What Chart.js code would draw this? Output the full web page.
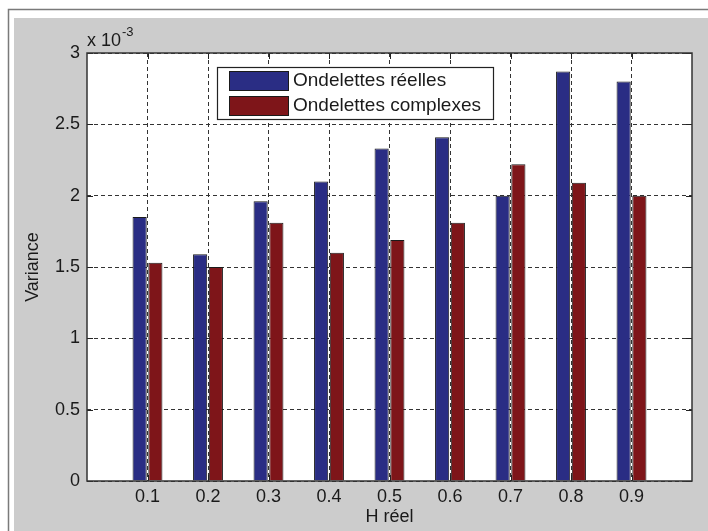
<!DOCTYPE html>
<html>
<head>
<meta charset="utf-8">
<script src="https://cdn.jsdelivr.net/npm/chart.js@4"></script>
<style>
  html, body { margin: 0; padding: 0; background: #ffffff; }
  canvas { display: block; }
</style>
</head>
<body>
<canvas id="chart" width="708" height="531"></canvas>
<script>
// Estimated variance of H for each true value of H
const hValues = [0.1, 0.2, 0.3, 0.4, 0.5, 0.6, 0.7, 0.8, 0.9];
const tickLabels = ['0.1', '0.2', '0.3', '0.4', '0.5', '0.6', '0.7', '0.8', '0.9'];
const seriesNames = ['Ondelettes réelles', 'Ondelettes complexes'];
const varReelles = [1.85e-3, 1.59e-3, 1.96e-3, 2.10e-3, 2.33e-3, 2.41e-3, 2.00e-3, 2.87e-3, 2.80e-3];
const varComplexes = [1.53e-3, 1.50e-3, 1.81e-3, 1.60e-3, 1.69e-3, 1.81e-3, 2.22e-3, 2.09e-3, 2.00e-3];

const FONT = 'Liberation Sans, Arial, Helvetica, sans-serif';
const TEXT = '#1a1a1a';
const BLUE = '#2a2d84';
const RED = '#7e1519';

const toPoints = (vals) => vals.map((v, i) => ({ x: hValues[i], y: v }));

// Figure background, plot frame, inner tick marks, exponent and legend
const figurePlugin = {
  id: 'figure',
  beforeDraw(chart) {
    const ctx = chart.ctx;
    const W = chart.width, H = chart.height;
    ctx.save();
    ctx.fillStyle = '#ffffff';
    ctx.fillRect(0, 0, W, H);
    ctx.fillStyle = '#cccccc';
    ctx.fillRect(14, 18, W - 14, H - 18);
    ctx.strokeStyle = '#7a7a7a';
    ctx.lineWidth = 1.5;
    ctx.beginPath();
    ctx.moveTo(8.5, H);
    ctx.lineTo(8.5, 9.5);
    ctx.lineTo(W, 9.5);
    ctx.stroke();
    const a = chart.chartArea;
    ctx.fillStyle = '#ffffff';
    ctx.fillRect(a.left, a.top, a.right - a.left, a.bottom - a.top);
    ctx.restore();
  },
  afterDatasetsDraw(chart) {
    const ctx = chart.ctx;
    const a = chart.chartArea;
    const xs = chart.scales.x, ys = chart.scales.y;
    const len = 6;
    ctx.save();
    ctx.strokeStyle = '#222222';
    ctx.lineWidth = 1;
    ctx.beginPath();
    xs.ticks.forEach(t => {
      const px = Math.round(xs.getPixelForValue(t.value)) + 0.5;
      ctx.moveTo(px, a.bottom); ctx.lineTo(px, a.bottom - len);
      ctx.moveTo(px, a.top); ctx.lineTo(px, a.top + len);
    });
    ys.ticks.forEach(t => {
      const py = Math.round(ys.getPixelForValue(t.value)) + 0.5;
      ctx.moveTo(a.left, py); ctx.lineTo(a.left + len, py);
      ctx.moveTo(a.right, py); ctx.lineTo(a.right - len, py);
    });
    ctx.stroke();
    ctx.strokeStyle = '#333333';
    ctx.lineWidth = 1.5;
    ctx.strokeRect(a.left, a.top, a.right - a.left, a.bottom - a.top);

    // exponent of the y axis
    ctx.fillStyle = TEXT;
    ctx.textBaseline = 'alphabetic';
    ctx.textAlign = 'left';
    ctx.font = '18px ' + FONT;
    ctx.fillText('x 10', a.left, a.top - 7);
    const w = ctx.measureText('x 10').width;
    ctx.font = '13px ' + FONT;
    ctx.fillText('-3', a.left + w + 1, a.top - 17);

    // legend box inside the axes
    const lx = a.left + 130, ly = a.top + 14, lw = 276, lh = 52;
    ctx.fillStyle = '#ffffff';
    ctx.fillRect(lx, ly, lw, lh);
    ctx.strokeStyle = '#222222';
    ctx.lineWidth = 1.2;
    ctx.strokeRect(lx + 0.5, ly + 0.5, lw, lh);
    ctx.font = '19px ' + FONT;
    ctx.textBaseline = 'middle';
    chart.data.datasets.forEach((ds, i) => {
      const sy = ly + 4 + i * 25;
      ctx.fillStyle = ds.backgroundColor;
      ctx.fillRect(lx + 12, sy, 59, 19);
      ctx.strokeStyle = '#1a1a1a';
      ctx.lineWidth = 1;
      ctx.strokeRect(lx + 12.5, sy + 0.5, 59, 19);
      ctx.fillStyle = TEXT;
      ctx.fillText(ds.label, lx + 76, sy + 10);
    });
    ctx.restore();
  }
};

new Chart(document.getElementById('chart'), {
  type: 'bar',
  data: {
    datasets: [
      { label: seriesNames[0], data: toPoints(varReelles), backgroundColor: BLUE, borderColor: '#1a1a1a', borderWidth: 1 },
      { label: seriesNames[1], data: toPoints(varComplexes), backgroundColor: RED, borderColor: '#1a1a1a', borderWidth: 1 }
    ]
  },
  options: {
    responsive: false,
    animation: false,
    devicePixelRatio: 1,
    categoryPercentage: 0.52,
    barPercentage: 0.9,
    layout: { padding: { top: 53, right: 16, bottom: 0, left: 14 } },
    plugins: { legend: { display: false }, tooltip: { enabled: false } },
    scales: {
      x: {
        type: 'linear',
        min: 0,
        max: 1,
        offset: false,
        afterBuildTicks: (scale) => { scale.ticks = hValues.map(v => ({ value: v })); },
        afterFit: (scale) => { scale.height = 50; },
        ticks: {
          color: TEXT,
          font: { family: FONT, size: 18 },
          padding: 5,
          maxRotation: 0,
          autoSkip: false,
          callback: (v, i) => tickLabels[i]
        },
        grid: { color: '#333333', lineWidth: 1, drawTicks: false, offset: false },
        border: { display: false, dash: [4, 3] },
        title: { display: true, text: 'H réel', color: TEXT, font: { family: FONT, size: 18 }, padding: { top: 0, bottom: 3 } }
      },
      y: {
        min: 0,
        max: 0.003,
        afterFit: (scale) => { scale.width = 73; },
        ticks: {
          stepSize: 0.0005,
          color: TEXT,
          font: { family: FONT, size: 18 },
          padding: 7,
          callback: (v) => String(Math.round(v * 1e4) / 10)
        },
        grid: { color: '#333333', lineWidth: 1, drawTicks: false },
        border: { display: false, dash: [4, 3] },
        title: { display: true, text: 'Variance', color: TEXT, font: { family: FONT, size: 18 }, padding: { top: 8, bottom: 0 } }
      }
    }
  },
  plugins: [figurePlugin]
});
</script>
</body>
</html>
